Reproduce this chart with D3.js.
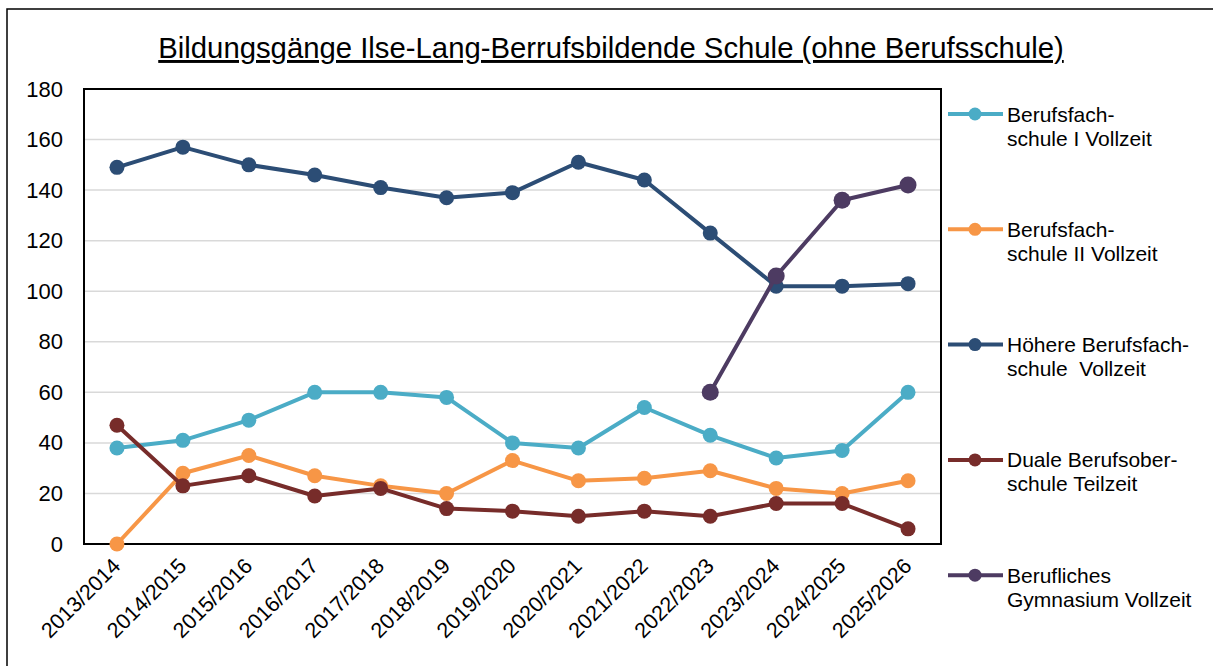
<!DOCTYPE html>
<html>
<head>
<meta charset="utf-8">
<script src="https://cdn.jsdelivr.net/npm/d3@7"></script>
<style>
  body { margin: 0; background: #fff; }
  svg { display: block; font-family: "Liberation Sans", Arial, sans-serif; }
</style>
</head>
<body>
<div id="chart"></div>
<script>
// Schuljahre
const years = ["2013/2014", "2014/2015", "2015/2016", "2016/2017", "2017/2018",
  "2018/2019", "2019/2020", "2020/2021", "2021/2022", "2022/2023",
  "2023/2024", "2024/2025", "2025/2026"];

// Schülerzahlen je Bildungsgang
const bfs1 = [38, 41, 49, 60, 60, 58, 40, 38, 54, 43, 34, 37, 60];
const bfs2 = [0, 28, 35, 27, 23, 20, 33, 25, 26, 29, 22, 20, 25];
const hbf = [149, 157, 150, 146, 141, 137, 139, 151, 144, 123, 102, 102, 103];
const dbos = [47, 23, 27, 19, 22, 14, 13, 11, 13, 11, 16, 16, 6];
const bgy = [null, null, null, null, null, null, null, null, null, 60, 106, 136, 142];

const yTicks = [0, 20, 40, 60, 80, 100, 120, 140, 160, 180];

const series = [
  { name: ["Berufsfach-", "schule I Vollzeit"], values: bfs1, color: "#4BACC6", r: 7.5 },
  { name: ["Berufsfach-", "schule II Vollzeit"], values: bfs2, color: "#F79646", r: 7.5 },
  { name: ["Höhere Berufsfach-", "schule\u00a0 Vollzeit"], values: hbf, color: "#2C4D75", r: 7.5 },
  { name: ["Duale Berufsober-", "schule Teilzeit"], values: dbos, color: "#772C2A", r: 7.5 },
  { name: ["Berufliches", "Gymnasium Vollzeit"], values: bgy, color: "#4D3B62", r: 8.5 }
];

const width = 1213;
const height = 666;
const marginTop = 89;
const marginRight = 272;
const marginBottom = 122;
const marginLeft = 84;

const svg = d3.select("#chart")
  .append("svg")
  .attr("width", width)
  .attr("height", height);

// Rahmen um die ganze Grafik
svg.append("rect")
  .attr("x", 7).attr("y", 9)
  .attr("width", 1212).attr("height", 700)
  .attr("fill", "none")
  .attr("stroke", "#000")
  .attr("stroke-width", 1.5);

// Titel
svg.append("text")
  .attr("x", 611).attr("y", 58)
  .attr("text-anchor", "middle")
  .style("font-size", "29.3px")
  .style("text-decoration", "underline")
  .text("Bildungsgänge Ilse-Lang-Berrufsbildende Schule (ohne Berufsschule)");

const x = d3.scalePoint()
  .domain(years)
  .range([marginLeft, width - marginRight])
  .padding(0.5);

const y = d3.scaleLinear()
  .domain([0, 180])
  .range([height - marginBottom, marginTop]);

// Gitternetz
svg.append("g")
  .selectAll("line")
  .data(yTicks.slice(1))
  .join("line")
  .attr("x1", marginLeft).attr("x2", width - marginRight)
  .attr("y1", d => y(d)).attr("y2", d => y(d))
  .attr("stroke", "#d9d9d9")
  .attr("stroke-width", 1.5);

// Y-Achse
const yAxis = svg.append("g")
  .attr("transform", `translate(${marginLeft},0)`)
  .call(d3.axisLeft(y).tickValues(yTicks).tickSize(0).tickPadding(21));
yAxis.select(".domain").remove();
yAxis.selectAll("text")
  .style("font-size", "22px")
  .style("font-family", "Liberation Sans, Arial, sans-serif")
  .style("fill", "#000");

// X-Achse mit schrägen Beschriftungen
const xAxis = svg.append("g")
  .attr("transform", `translate(0,${height - marginBottom})`)
  .call(d3.axisBottom(x).tickSize(0));
xAxis.select(".domain").remove();
xAxis.selectAll("text")
  .attr("text-anchor", "end")
  .attr("transform", "translate(-1,18) rotate(-45)")
  .attr("dy", "0.35em")
  .attr("y", 0)
  .style("font-size", "21.5px")
  .style("font-family", "Liberation Sans, Arial, sans-serif")
  .style("fill", "#000");

// Rahmen der Zeichenfläche
svg.append("rect")
  .attr("x", marginLeft).attr("y", marginTop)
  .attr("width", width - marginLeft - marginRight)
  .attr("height", height - marginTop - marginBottom)
  .attr("fill", "none")
  .attr("stroke", "#000")
  .attr("stroke-width", 2);

const line = d3.line()
  .defined(d => d != null)
  .x((d, i) => x(years[i]))
  .y(d => y(d));

series.forEach(s => {
  svg.append("path")
    .datum(s.values)
    .attr("fill", "none")
    .attr("stroke", s.color)
    .attr("stroke-width", 4)
    .attr("stroke-linejoin", "round")
    .attr("d", line);

  svg.append("g")
    .selectAll("circle")
    .data(s.values.map((v, i) => ({ v, i })).filter(d => d.v != null))
    .join("circle")
    .attr("cx", d => x(years[d.i]))
    .attr("cy", d => y(d.v))
    .attr("r", s.r)
    .attr("fill", s.color);
});

// Legende
const legend = svg.append("g");
series.forEach((s, k) => {
  const ly = 114 + k * 115.3;
  const g = legend.append("g").attr("transform", `translate(0,${ly})`);
  g.append("line")
    .attr("x1", 948).attr("x2", 1003)
    .attr("stroke", s.color).attr("stroke-width", 4);
  g.append("circle")
    .attr("cx", 975).attr("r", 6.5)
    .attr("fill", s.color);
  g.append("text")
    .attr("x", 1007).attr("y", 7.5)
    .style("font-size", "21px")
    .selectAll("tspan")
    .data(s.name)
    .join("tspan")
    .attr("x", 1007)
    .attr("dy", (d, i) => i === 0 ? 0 : 24)
    .text(d => d);
});
</script>
</body>
</html>
